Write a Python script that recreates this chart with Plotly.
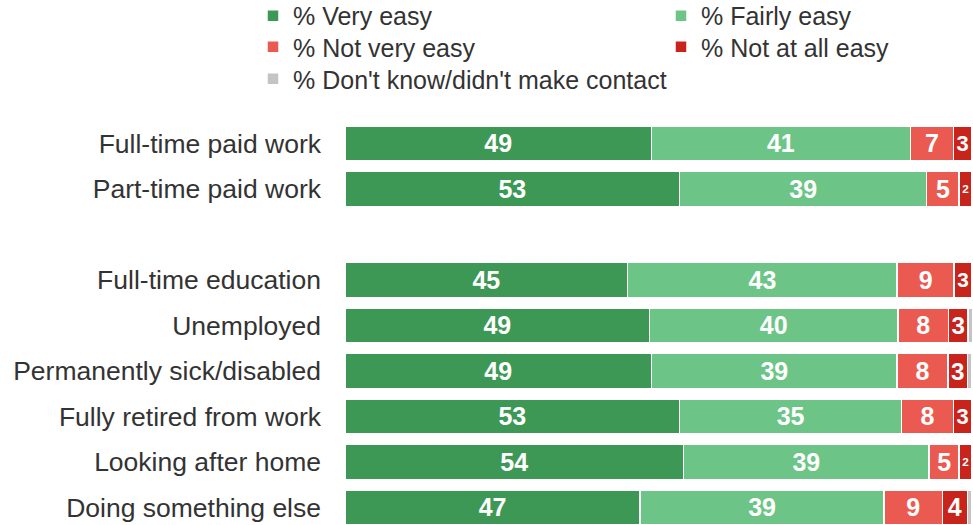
import plotly.graph_objects as go

# rows from top to bottom; " " is an empty spacer row
groups = ["Full-time paid work", "Part-time paid work", " ",
          "Full-time education", "Unemployed", "Permanently sick/disabled",
          "Fully retired from work", "Looking after home", "Doing something else"]

very_easy = [48.9, 53.4, None, 45.1, 48.6, 48.9, 53.4, 54.0, 47.1]
fairly_easy = [41.3, 39.4, None, 43.0, 39.6, 39.2, 35.4, 39.2, 38.9]
not_very_easy = [6.9, 5.2, None, 9.1, 8.1, 8.1, 8.3, 4.8, 9.3]
not_at_all_easy = [2.9, 2.0, None, 2.8, 3.1, 3.1, 2.9, 2.0, 4.0]
dont_know = [0.0, 0.0, None, 0.0, 0.7, 0.7, 0.0, 0.0, 0.7]

# name, values, colour, show labels, legend row
series = [
    ("% Very easy", very_easy, "#3d9856", True, "legend"),
    ("% Fairly easy", fairly_easy, "#6cc586", True, "legend"),
    ("% Not very easy", not_very_easy, "#eb5a50", True, "legend2"),
    ("% Not at all easy", not_at_all_easy, "#c9241b", True, "legend2"),
    ("% Don't know/didn't make contact", dont_know, "#c4c4c4", False, "legend3"),
]

FONT = "Liberation Sans, Arial, sans-serif"

fig = go.Figure()
for name, vals, col, lab, leg in series:
    txt = [("" if v is None else f"{v:.0f}") if lab else "" for v in vals]
    fig.add_trace(go.Bar(
        y=groups, x=vals, name=name, orientation="h", legend=leg,
        marker=dict(color=col, line=dict(color="white", width=1.5)),
        text=txt, textposition="inside", insidetextanchor="middle",
        textfont=dict(family=FONT, size=25, color="white", weight="bold"),
        hoverinfo="skip",
    ))

leg_common = dict(
    orientation="h", x=-0.1465, xanchor="left", yanchor="middle",
    entrywidth=363, traceorder="normal",
    font=dict(family=FONT, size=25, color="#333333"),
    bgcolor="rgba(0,0,0,0)",
)

fig.update_layout(
    width=973, height=525,
    barmode="stack", bargap=0.23,
    plot_bgcolor="white", paper_bgcolor="white",
    margin=dict(l=345, r=0, t=120, b=0, autoexpand=False),
    font=dict(family=FONT, color="#333333"),
    legend=dict(leg_common, y=1.2568),
    legend2=dict(leg_common, y=1.1802),
    legend3=dict(leg_common, y=1.1012, entrywidth=0),
)
fig.update_xaxes(range=[0, 100.2], visible=False, fixedrange=True)
fig.update_yaxes(
    categoryorder="array", categoryarray=groups,
    range=[8.385, -0.516], showgrid=False, zeroline=False,
    showline=False, ticks="", ticklabelstandoff=23,
    tickfont=dict(family=FONT, size=26.5, color="#333333"),
)

# drop the default page margin so the chart fills the window
fig.write_html("out.html",
               config={"displayModeBar": False},
               post_script="document.body.style.margin='0';"
                           "document.body.style.overflow='hidden';")
